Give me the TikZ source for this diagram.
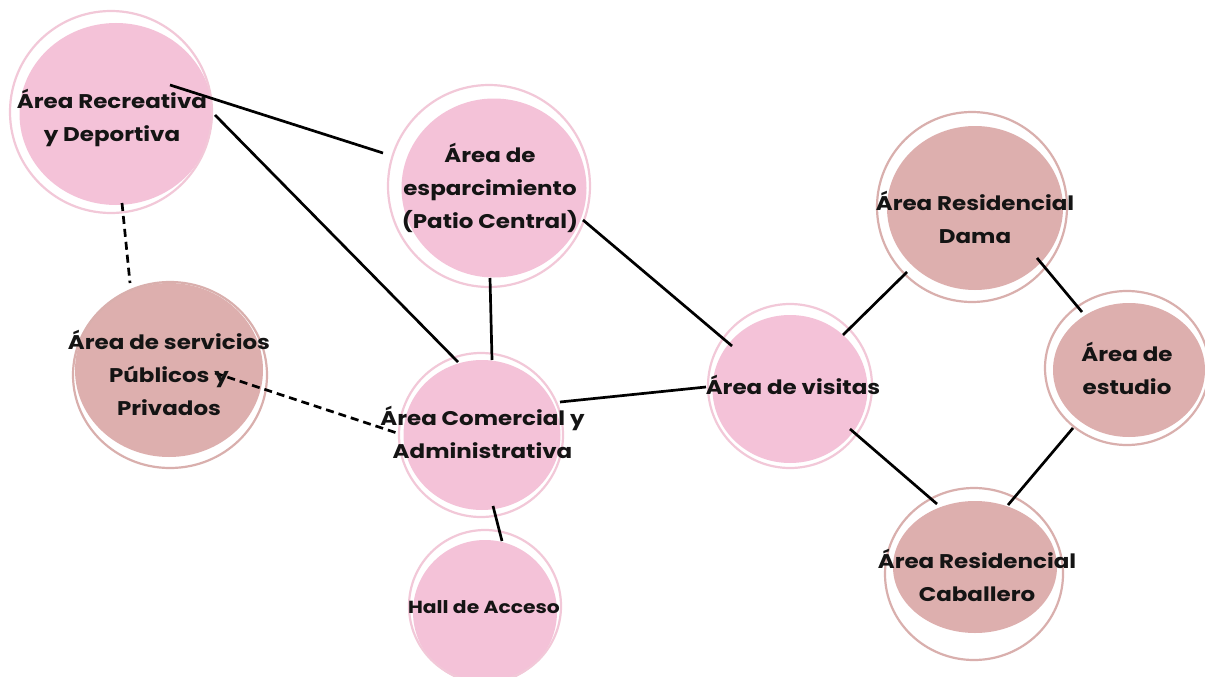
\documentclass[tikz,border=0pt]{standalone}
\usepackage{fontspec}
\setmainfont{Poppins}[FakeStretch=1.16]
\usetikzlibrary{shapes.geometric,calc}
\definecolor{pinkF}{HTML}{F4C2D8}
\definecolor{pinkR}{HTML}{F2C8D8}
\definecolor{roseF}{HTML}{DDAFAE}
\definecolor{roseR}{HTML}{D9AFAD}
\tikzset{
  blob/.style={ellipse, inner sep=0pt, draw=none},
  ring/.style={line width=2.2pt},
  link/.style={line width=2.7pt, black},
  dlink/.style={link, dash pattern=on 8pt off 5pt},
  lbl/.style={align=center, font=\fontsize{19.8}{33}\selectfont\bfseries, text=black!92, inner sep=0pt},
  small/.style={lbl, font=\fontsize{17.5}{28}\selectfont\bfseries}
}
\begin{document}
\begin{tikzpicture}[x=1pt,y=-1pt]
\useasboundingbox (0,0) rectangle (1205,677);
\fill[white] (0,0) rectangle (1205,677);
% fills
\node[blob, fill=pinkF, minimum width=193pt, minimum height=182pt] (rec) at (116,114) {};
\node[blob, fill=pinkF, minimum width=185pt, minimum height=179pt] (esp) at (494,188) {};
\node[blob, fill=roseF, minimum width=188pt, minimum height=174pt] (serv) at (169,370) {};
\node[blob, fill=pinkF, minimum width=157pt, minimum height=150pt] (com) at (482,435) {};
\node[blob, fill=pinkF, minimum width=144pt, minimum height=144pt] (hall) at (485,612) {};
\node[blob, fill=pinkF, minimum width=155pt, minimum height=148pt] (vis) at (790,389) {};
\node[blob, fill=roseF, minimum width=176pt, minimum height=164pt] (dama) at (975,208) {};
\node[blob, fill=roseF, minimum width=152pt, minimum height=134pt] (est) at (1129,370) {};
\node[blob, fill=roseF, minimum width=164pt, minimum height=132pt] (cab) at (975,567) {};
% rings
\draw[ring, pinkR] (111,112) circle [radius=101];
\draw[ring, pinkR] (489,186) circle [radius=101];
\draw[ring, roseR] (170,375) ellipse [x radius=97, y radius=93];
\draw[ring, pinkR] (481,435) circle [radius=82];
\draw[ring, pinkR] (485,606) circle [radius=76];
\draw[ring, pinkR] (790,386) circle [radius=82];
\draw[ring, roseR] (972,207) circle [radius=95];
\draw[ring, roseR] (1127,368) ellipse [x radius=82, y radius=77];
\draw[ring, roseR] (974,574) ellipse [x radius=89, y radius=86];
% connectors
\draw[link] ($(rec)+(54,-29)$) -- ($(esp)+(-111,-35)$);
\draw[link] ($(rec)+(99,1)$) -- ($(com)+(-24,-73)$);
\draw[dlink] ($(rec)+(6,89)$) -- ($(serv)+(-39,-87)$);
\draw[link] ($(esp)+(-4,90)$) -- ($(com)+(10,-75)$);
\draw[link] ($(esp)+(89,32)$) -- ($(vis)+(-58,-43)$);
\draw[dlink] ($(serv)+(46,3)$) -- ($(com)+(-85,-2)$);
\draw[link] ($(com)+(78,-33)$) -- ($(vis)+(-84,-2)$);
\draw[link] ($(com)+(11,71)$) -- ($(hall)+(17,-71)$);
\draw[link] ($(vis)+(53,-54)$) -- ($(dama)+(-68,64)$);
\draw[link] ($(vis)+(60,40)$) -- ($(cab)+(-38,-63)$);
\draw[link] ($(dama)+(62,50)$) -- ($(est)+(-47,-58)$);
\draw[link] ($(est)+(-56,58)$) -- ($(cab)+(33,-62)$);
% labels
\node[lbl] (trec) at (112,117.5) {Área Recreativa\\y Deportiva};
\node[lbl] (tesp) at (490,187.5) {Área de\\esparcimiento\\(Patio Central)};
\node[lbl] (tserv) at (169,373) {Área de servicios\\Públicos y\\Privados};
\node[lbl] (tcom) at (482.5,432.5) {Área Comercial y\\Administrativa};
\node[small] (thall) at (484,607) {Hall de Acceso};
\node[lbl] (tvis) at (793,385) {Área de visitas};
\node[lbl] (tdama) at (975,217.5) {Área Residencial\\Dama};
\node[lbl] (test) at (1127,368.5) {Área de\\estudio};
\node[lbl] (tcab) at (977,575) {Área Residencial\\Caballero};
\end{tikzpicture}
\end{document}
